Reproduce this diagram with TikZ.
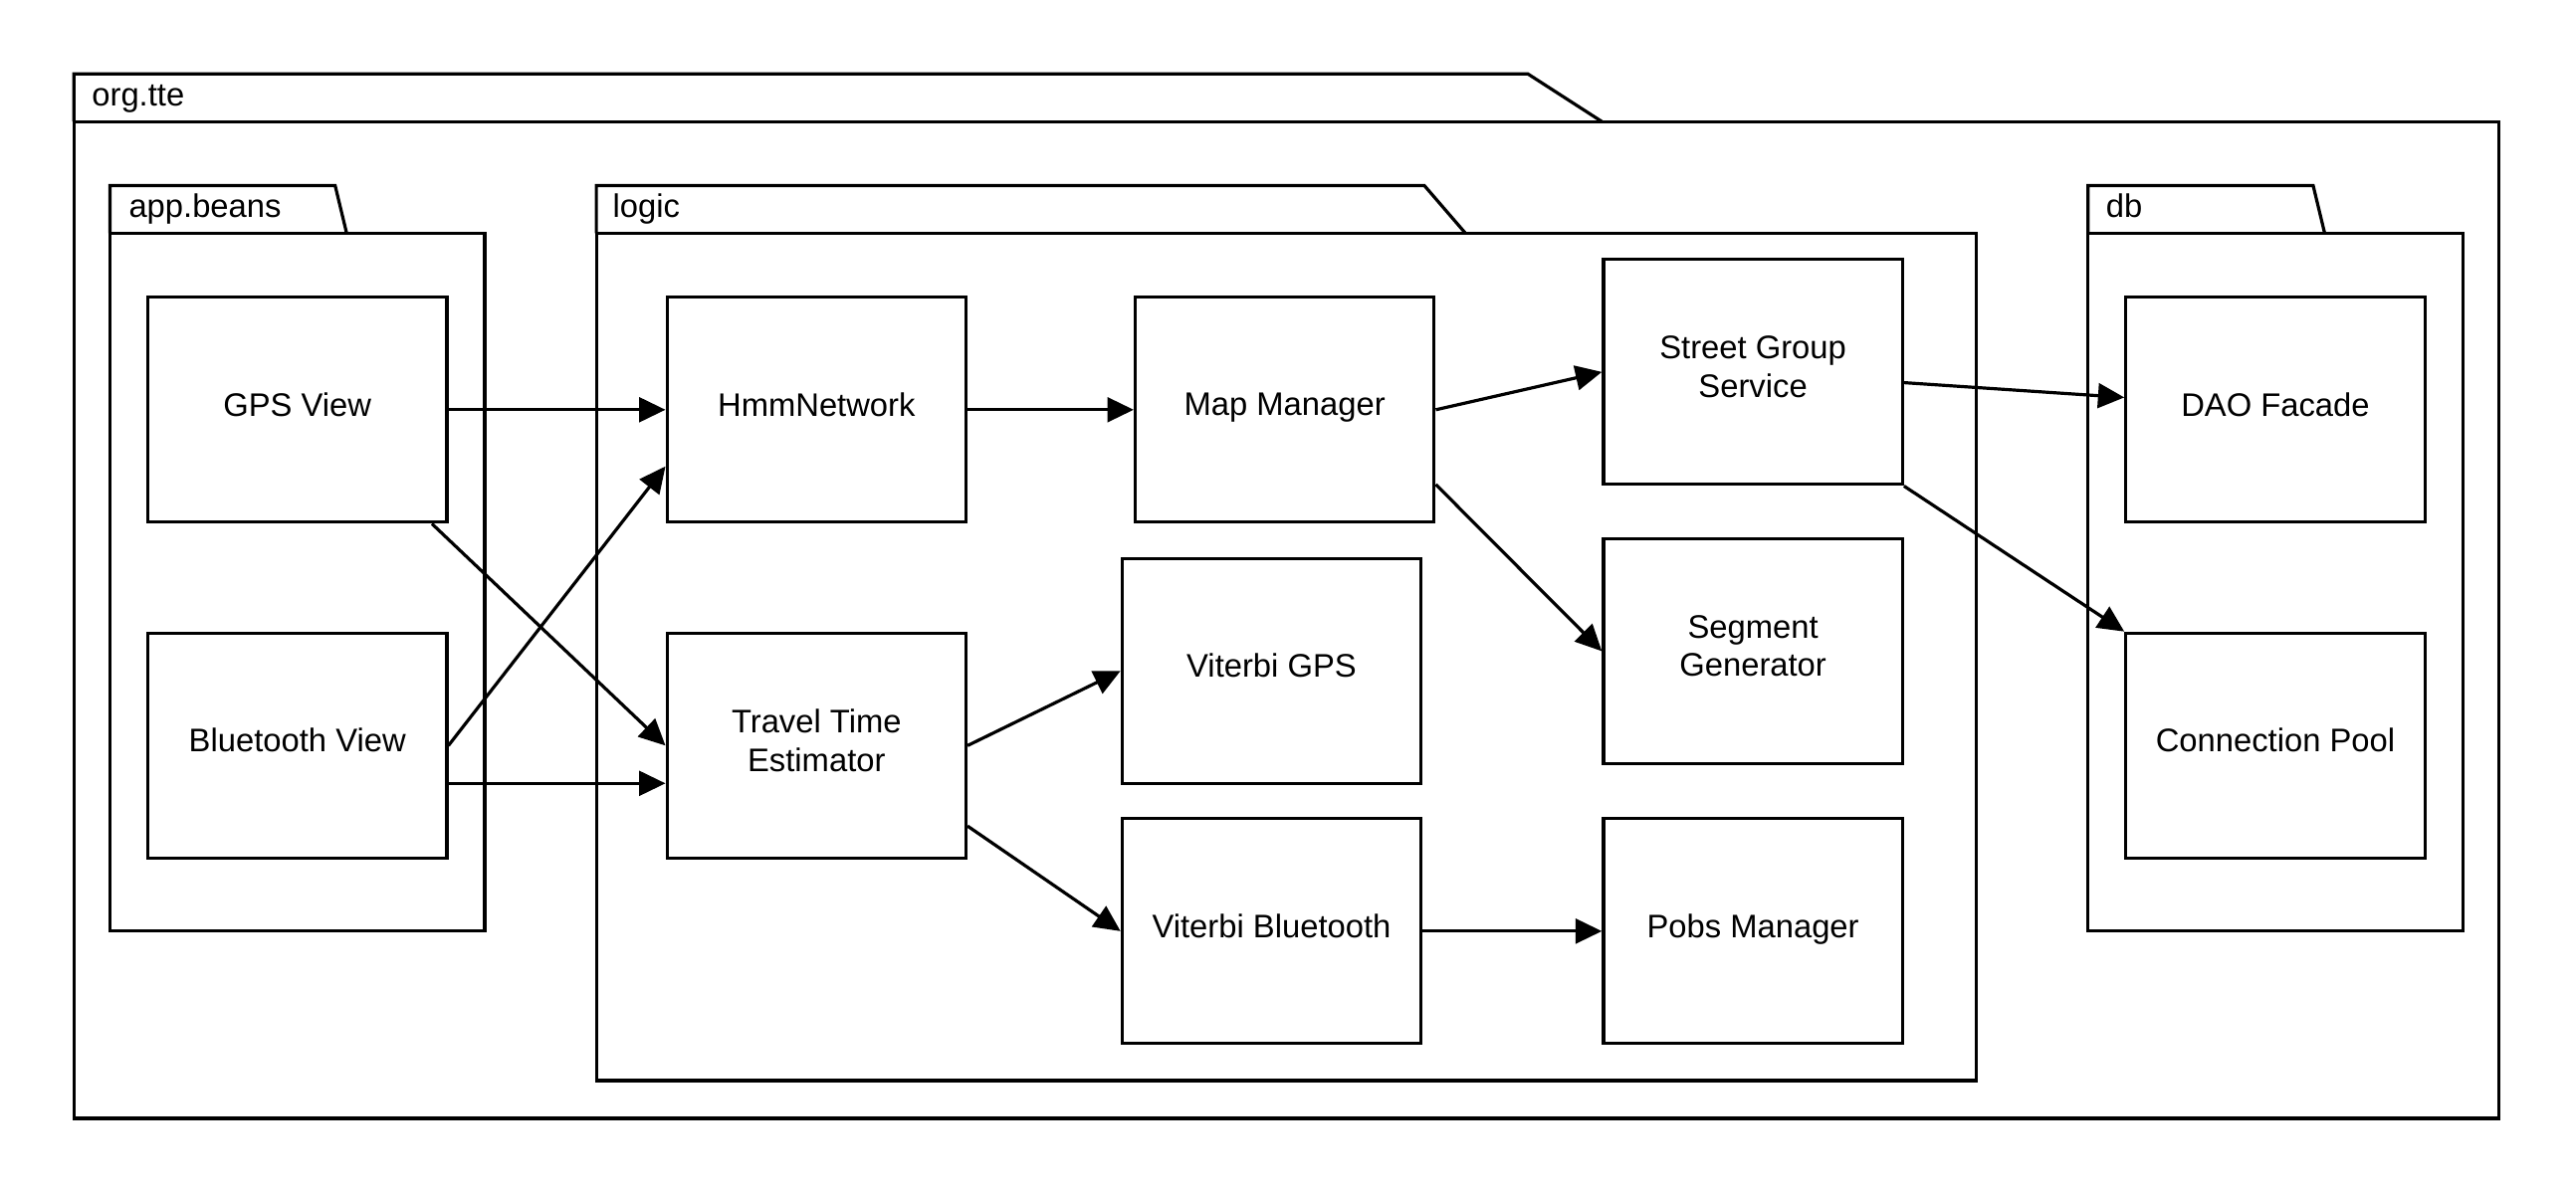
\documentclass[tikz,border=0pt]{standalone}
\usepackage{fontspec}
\setmainfont{Liberation Sans}
\usetikzlibrary{arrows.meta}

\begin{document}
\begin{tikzpicture}[x=0.02cm,y=-0.02cm,line width=1.1pt,
  comp/.style={draw,rectangle,minimum width=3.64cm,minimum height=2.74cm,inner sep=2pt,text depth=3.7pt,align=center,font=\fontsize{11.3}{13.4}\selectfont},
  pkglabel/.style={anchor=base west,inner sep=0pt,font=\fontsize{11.3}{13.4}\selectfont},
  dep/.style={-{Triangle[length=0.32cm,width=0.3cm]}}]
\useasboundingbox (0,0) rectangle (1568,727);

%%% packages %%%
\draw (45,74) -- (45,45) -- (930,45) -- (975,74);
\draw (45,74) rectangle (1521,681);
\node (orgtte) at (55,64.5) [pkglabel] {org.tte};

\draw (67,142) -- (67,113) -- (204,113) -- (211,142);
\draw (67,142) rectangle (295,567);
\node (appbeans) at (77.5,132.5) [pkglabel] {app.beans};

\draw (363,142) -- (363,113) -- (867,113) -- (892,142);
\draw (363,142) rectangle (1203,658);
\node (logic) at (372,132.5) [pkglabel] {logic};

\draw (1271,142) -- (1271,113) -- (1408,113) -- (1415,142);
\draw (1271,142) rectangle (1499,567);
\node (db) at (1281,132.5) [pkglabel] {db};

%%% classes %%%
  \node (gps) at (181,249.5) [comp] {GPS View};
  \node (btv) at (181,454) [comp] {Bluetooth View};
  \node (hmm) at (497,249.5) [comp] {HmmNetwork};
  \node (tte) at (497,454) [comp] {Travel Time\\Estimator};
  \node (mapm) at (782,249.5) [comp] {Map Manager};
  \node (vgps) at (774,408.5) [comp] {Viterbi GPS};
  \node (vbt) at (774,567) [comp] {Viterbi Bluetooth};
  \node (sgs) at (1067,226.5) [comp] {Street Group\\Service};
  \node (segg) at (1067,396.5) [comp] {Segment\\Generator};
  \node (pobs) at (1067,567) [comp] {Pobs Manager};
  \node (dao) at (1385,249.5) [comp] {DAO Facade};
  \node (pool) at (1385,454) [comp] {Connection Pool};

%%% dependencies %%%
\draw [dep] (gps.east) -- (hmm.west);
\draw [dep] ([xshift=-0.2cm]gps.south east) -- (tte.west);
\draw [dep] (btv.east) -- ([yshift=0.7cm]hmm.south west);
\draw [dep] ([yshift=-0.46cm]btv.east) -- ([yshift=-0.46cm]tte.west);
\draw [dep] (hmm.east) -- (mapm.west);
\draw [dep] (mapm.east) -- (sgs.west);
\draw [dep] ([yshift=-0.91cm]mapm.east) -- (segg.west);
\draw [dep] (tte.east) -- (vgps.west);
\draw [dep] ([yshift=-0.98cm]tte.east) -- (vbt.west);
\draw [dep] (vbt.east) -- (pobs.west);
\draw [dep] ([yshift=-0.13cm]sgs.east) -- ([yshift=0.15cm]dao.west);
\draw [dep] (sgs.south east) -- (pool.north west);
\end{tikzpicture}
\end{document}
